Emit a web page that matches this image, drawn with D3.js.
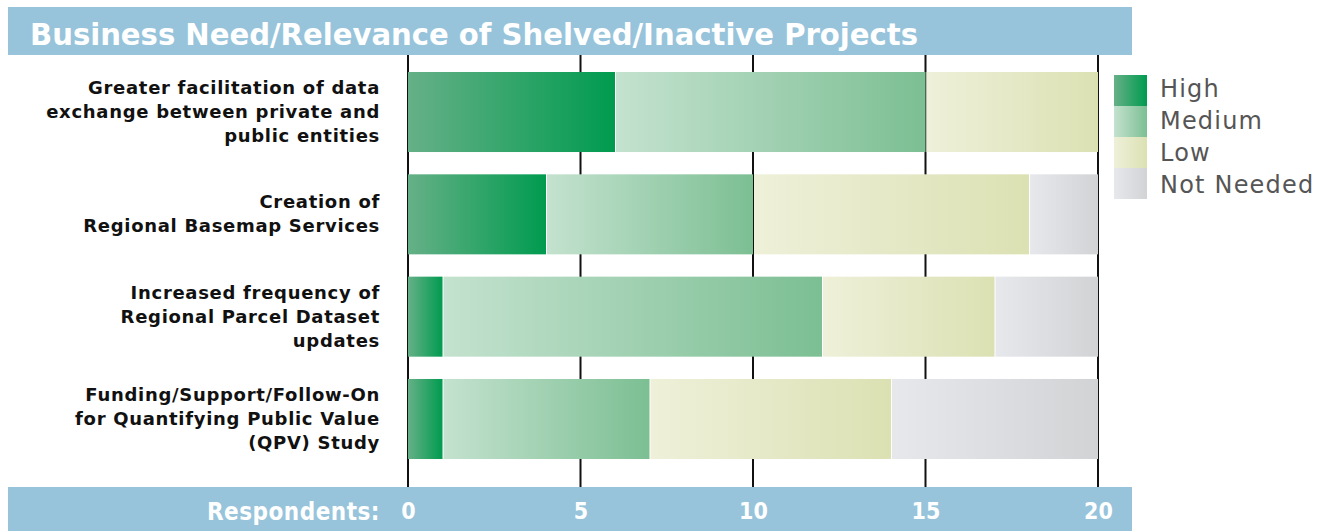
<!DOCTYPE html>
<html>
<head>
<meta charset="utf-8">
<script src="https://cdn.jsdelivr.net/npm/d3@7"></script>
<style>
  body { margin: 0; background: #fff; }
  svg { display: block; }
</style>
</head>
<body>
<svg width="1337" height="531"></svg>
<script>

let categories = [
    ['Greater facilitation of data', 'exchange between private and', 'public entities'],
    ['Creation of', 'Regional Basemap Services'],
    ['Increased frequency of', 'Regional Parcel Dataset', 'updates'],
    ['Funding/Support/Follow-On', 'for Quantifying Public Value', '(QPV) Study']
];
let seriesNames = ['High', 'Medium', 'Low', 'Not Needed'];
let high      = [6, 4, 1, 1];
let medium    = [9, 6, 11, 6];
let low       = [5, 8, 5, 7];
let notNeeded = [0, 2, 3, 6];
let tickValues = [0, 5, 10, 15, 20];

let title = 'Business Need/Relevance of Shelved/Inactive Projects';
let axisTitle = 'Respondents:';

// gradient stops per series (left light, right dark)
let gradColors = [
    ['#66b087', '#009b4f'],
    ['#c4e2cf', '#7cbf93'],
    ['#eef0d9', '#dce1b3'],
    ['#e7e8ec', '#d1d3d5']
];
let bandColor = '#97c4db';

let svg = d3.select('svg');
let width = +svg.attr('width');
let height = +svg.attr('height');

let margin = { top: 55, bottom: 487, left: 408, right: 1098 };

let rows = categories.map((c, i) => ({
    label: c,
    values: [high[i], medium[i], low[i], notNeeded[i]]
}));

let x = d3.scaleLinear()
    .domain([0, 20])
    .range([margin.left, margin.right]);

let y = d3.scaleBand()
    .domain(d3.range(categories.length))
    .range([72, 459])
    .paddingInner(0.218)
    .paddingOuter(0);

let defs = svg.append('defs');
gradColors.forEach((c, i) => {
    let g = defs.append('linearGradient')
        .attr('id', 'grad' + i)
        .attr('x1', '0%').attr('x2', '100%')
        .attr('y1', '0%').attr('y2', '0%');
    g.append('stop').attr('offset', '0%').attr('stop-color', c[0]);
    g.append('stop').attr('offset', '100%').attr('stop-color', c[1]);
});

// header band
svg.append('rect')
    .attr('x', 8).attr('y', 7)
    .attr('width', 1124).attr('height', 48)
    .attr('fill', bandColor);

svg.append('text')
    .attr('x', 30).attr('y', 45)
    .attr('textLength', 888)
    .attr('lengthAdjust', 'spacingAndGlyphs')
    .style('font-family', 'DejaVu Sans Condensed, DejaVu Sans')
    .style('font-weight', 'bold')
    .style('font-size', '31px')
    .attr('fill', '#fff')
    .text(title);

// vertical grid lines
svg.append('g')
    .selectAll('line')
    .data(tickValues)
    .enter().append('line')
    .attr('x1', d => x(d)).attr('x2', d => x(d))
    .attr('y1', margin.top).attr('y2', margin.bottom)
    .attr('stroke', '#111')
    .attr('stroke-width', 2);

// stacked bars
let bar = svg.selectAll('.bar')
    .data(rows)
    .enter().append('g')
    .attr('class', 'bar')
    .attr('transform', (d, i) => 'translate(0,' + y(i) + ')');

bar.each(function(d) {
    let g = d3.select(this);
    let start = 0;
    d.values.forEach((v, j) => {
        if (v > 0) {
            g.append('rect')
                .attr('x', x(start) + (j > 0 ? 1 : 0))
                .attr('y', 0)
                .attr('width', x(start + v) - x(start) - (j > 0 ? 1 : 0))
                .attr('height', y.bandwidth())
                .attr('fill', 'url(#grad' + j + ')');
        }
        start += v;
    });
});

// category labels
bar.append('text')
    .attr('text-anchor', 'end')
    .style('font-family', 'DejaVu Sans')
    .style('font-weight', 'bold')
    .style('font-size', '18px')
    .style('letter-spacing', '0.7px')
    .attr('fill', '#111')
    .each(function(d) {
        let t = d3.select(this);
        let n = d.label.length;
        d.label.forEach((line, k) => {
            t.append('tspan')
                .attr('x', 380)
                .attr('y', y.bandwidth() / 2 + (k - (n - 1) / 2) * 24 + 6)
                .text(line);
        });
    });

// bottom band with axis labels
svg.append('rect')
    .attr('x', 8).attr('y', margin.bottom)
    .attr('width', 1124).attr('height', height - margin.bottom)
    .attr('fill', bandColor);

svg.append('text')
    .attr('x', 380).attr('y', 520)
    .attr('text-anchor', 'end')
    .style('font-family', 'DejaVu Sans Condensed, DejaVu Sans')
    .style('font-weight', 'bold')
    .style('font-size', '24px')
    .style('letter-spacing', '0.5px')
    .attr('fill', '#fff')
    .text(axisTitle);

let axis = svg.append('g')
    .attr('transform', 'translate(0,' + margin.bottom + ')')
    .call(d3.axisBottom(x).tickValues(tickValues).tickSize(0).tickPadding(16));

axis.select('.domain').remove();
axis.selectAll('text')
    .style('font-family', 'DejaVu Sans Condensed, DejaVu Sans')
    .style('font-weight', 'bold')
    .style('font-size', '23px')
    .attr('fill', '#fff');

// legend
let legend = svg.append('g')
    .attr('transform', 'translate(1114,75)');

legend.selectAll('rect')
    .data(seriesNames)
    .enter().append('rect')
    .attr('x', 0)
    .attr('y', (d, i) => i * 31)
    .attr('width', 33)
    .attr('height', 31)
    .attr('fill', (d, i) => 'url(#grad' + i + ')');

legend.selectAll('text')
    .data(seriesNames)
    .enter().append('text')
    .attr('x', 46)
    .attr('y', (d, i) => i * 32 + 22)
    .style('font-family', 'DejaVu Sans, sans-serif')
    .style('font-size', '24px')
    .style('letter-spacing', '1.2px')
    .attr('fill', '#555')
    .text(d => d);

</script>
</body>
</html>
